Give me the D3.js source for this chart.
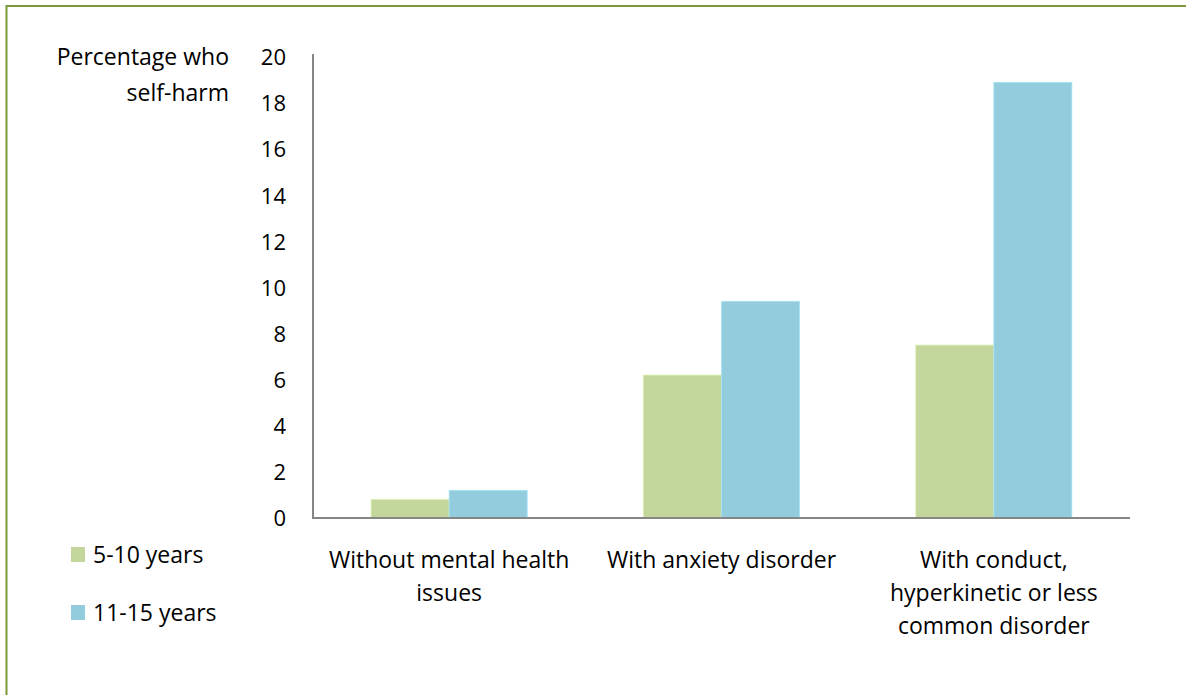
<!DOCTYPE html>
<html>
<head>
<meta charset="utf-8">
<script src="https://cdn.jsdelivr.net/npm/d3@7"></script>
<style>
  html, body { margin: 0; padding: 0; background: #fff; }
  svg { display: block; }
  text { font-family: "Open Sans", Lato, sans-serif; fill: #000; }
</style>
</head>
<body>
<svg id="chart" width="1186" height="695"></svg>
<script>
const categories = [
  ["Without mental health", "issues"],
  ["With anxiety disorder"],
  ["With conduct,", "hyperkinetic or less", "common disorder"]
];
const seriesNames = ["5-10 years", "11-15 years"];
const values5to10 = [0.8, 6.2, 7.5];
const values11to15 = [1.2, 9.4, 18.9];
const yTicks = [0, 2, 4, 6, 8, 10, 12, 14, 16, 18, 20];
const colors = ["#C3D69B", "#93CDDD"];

const FONT = "23px";
const svg = d3.select("#chart");
const W = 1186, H = 695;

// Outer frame
svg.append("rect")
  .attr("x", 6.5).attr("y", 6).attr("width", W + 10).attr("height", H + 10)
  .attr("fill", "none").attr("stroke", "#7A9A3A").attr("stroke-width", 2);

const plot = { left: 313, right: 1130, top: 57, bottom: 518 };

const x0 = d3.scaleBand()
  .domain(d3.range(categories.length))
  .range([plot.left, plot.right])
  .paddingInner(0.427)
  .paddingOuter(0.2135);
const x1 = d3.scaleBand()
  .domain(d3.range(seriesNames.length))
  .range([0, x0.bandwidth()]);
const y = d3.scaleLinear().domain([0, 20]).range([plot.bottom, plot.top]);

const series = [values5to10, values11to15];

// Bars
const g = svg.append("g");
categories.forEach((c, i) => {
  series.forEach((vals, s) => {
    g.append("rect")
      .attr("x", x0(i) + x1(s))
      .attr("y", y(vals[i]))
      .attr("width", x1.bandwidth())
      .attr("height", y(0) - y(vals[i]))
      .attr("fill", colors[s])
      .attr("stroke", d3.color(colors[s]).brighter(0.3))
      .attr("stroke-width", 0.8);
  });
});

// Y axis
const yAxis = d3.axisLeft(y).tickValues(yTicks).tickSize(0).tickPadding(27);
const yg = svg.append("g").attr("transform", `translate(${plot.left},0)`).call(yAxis);
yg.select(".domain").remove();
yg.selectAll("text").style("font-size", "22px").attr("dy", "0.35em")
  .style("font-family", "'Open Sans', Lato, sans-serif");

// Axis lines
svg.append("line").attr("x1", plot.left).attr("x2", plot.left)
  .attr("y1", plot.top - 3).attr("y2", plot.bottom)
  .attr("stroke", "#868686").attr("stroke-width", 2);
svg.append("line").attr("x1", plot.left - 1).attr("x2", plot.right)
  .attr("y1", plot.bottom).attr("y2", plot.bottom)
  .attr("stroke", "#868686").attr("stroke-width", 2);

// X category labels
categories.forEach((lines, i) => {
  const cx = x0(i) + x0.bandwidth() / 2;
  const t = svg.append("text").attr("text-anchor", "middle")
    .style("font-size", FONT);
  lines.forEach((ln, k) => {
    t.append("tspan").attr("x", cx).attr("y", 568 + k * 33).text(ln);
  });
});

// Y axis title
const yt = svg.append("text").attr("text-anchor", "end").style("font-size", FONT);
yt.append("tspan").attr("x", 229).attr("y", 65).text("Percentage who");
yt.append("tspan").attr("x", 229).attr("y", 101).text("self-harm");

// Legend
seriesNames.forEach((name, s) => {
  const ly = 547 + s * 58;
  svg.append("rect").attr("x", 71).attr("y", ly).attr("width", 14).attr("height", 15)
    .attr("fill", colors[s]);
  svg.append("text").attr("x", 93).attr("y", ly + 16).style("font-size", FONT).text(name);
});
</script>
</body>
</html>
